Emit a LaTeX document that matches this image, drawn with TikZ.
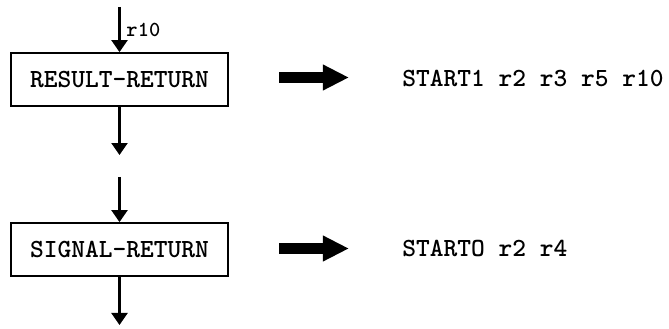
\documentclass[tikz,border=0pt]{standalone}
\usetikzlibrary{arrows.meta}

\begin{document}
\begin{tikzpicture}[
        routine/.style={draw=black, fill=white, minimum width=4.34cm, minimum height=1.05cm, line width=1.3pt, font=\fontsize{14.9}{18}\selectfont\ttfamily\bfseries, align=center},
        result/.style={anchor=base west, inner sep=0pt, font=\fontsize{14.9}{18}\selectfont\ttfamily\bfseries},
        flow/.style={-{Triangle[length=0.24cm, width=0.32cm]}, line width=1.3pt, black},
        bigarrow/.style={-{Triangle[length=0.52cm, width=0.48cm]}, line width=0.22cm, black}
    ]
        \useasboundingbox (0,0) rectangle (13.38,-6.58);

        % Routines
        \node[routine] (res) at (2.39, -1.59) {RESULT-RETURN};
        \node[routine] (sig) at (2.39, -4.99) {SIGNAL-RETURN};

        % Returned values
        \node[result] (resout) at (8.04, -1.72) {START1 r2 r3 r5 r10};
        \node[result] (sigout) at (8.04, -5.12) {STARTO r2 r4};

        % Flow ends
        \coordinate (in1) at (2.39, -0.14);
        \coordinate (out1) at (2.39, -3.1);
        \coordinate (in2) at (2.39, -3.54);
        \coordinate (out2) at (2.39, -6.5);

        % Connections
        \draw[flow] (in1) -- (res.north) node[midway, right, font=\fontsize{12.2}{14}\selectfont\ttfamily\bfseries] {r10};
        \draw[flow] (res.south) -- (out1);
        \draw[flow] (in2) -- (sig.north);
        \draw[flow] (sig.south) -- (out2);

        \draw[bigarrow, shorten <=1cm, shorten >=1.06cm] ([yshift=0.04cm]res.east) -- ([yshift=0.04cm]res.east -| resout.west);
        \draw[bigarrow, shorten <=1cm, shorten >=1.06cm] ([yshift=0.02cm]sig.east) -- ([yshift=0.02cm]sig.east -| sigout.west);
    \end{tikzpicture}
\end{document}
